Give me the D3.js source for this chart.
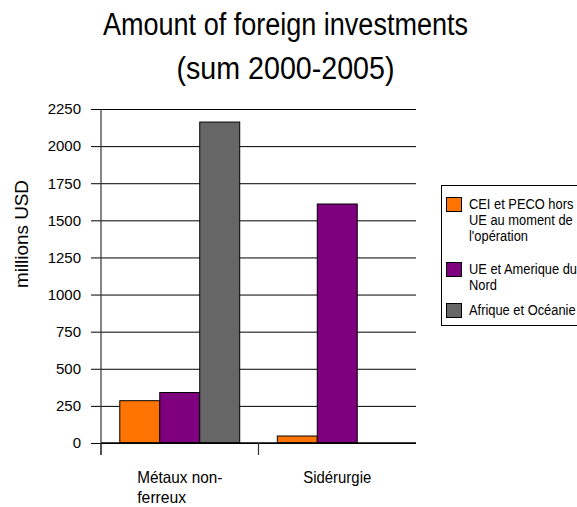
<!DOCTYPE html>
<html><head><meta charset="utf-8">
<script src="https://cdn.jsdelivr.net/npm/d3@7"></script>
<style>body{margin:0;background:#fff;} svg{display:block;font-family:"Liberation Sans",Arial,sans-serif;}</style>
</head><body>
<script>
const categories = ["Métaux non-ferreux", "Sidérurgie"];
const categoryLines = [["Métaux non-", "ferreux"], ["Sidérurgie"]];
const seriesNames = ["CEI et PECO hors UE au moment de l'opération", "UE et Amerique du Nord", "Afrique et Océanie"];
const legendLines = [["CEI et PECO hors", "UE au moment de", "l'opération"], ["UE et Amerique du", "Nord"], ["Afrique et Océanie"]];
const seriesCEI = [285, 47];
const seriesUE = [340, 1610];
const seriesAfrique = [2162, 0];
const seriesValues = [seriesCEI, seriesUE, seriesAfrique];
const colors = ["#ff7300", "#7f007f", "#666666"];
const yTicks = [0, 250, 500, 750, 1000, 1250, 1500, 1750, 2000, 2250];

(function () {
const W = 577, H = 507;
const svg = d3.select("body").append("svg").attr("width", W).attr("height", H);
const pl = 101, pr = 416, pt = 109, pb = 443;

const x = d3.scaleBand().domain(categories).range([pl, pr]);
const xs = d3.scaleBand().domain(d3.range(seriesNames.length)).range([0, x.bandwidth()]).paddingInner(0).paddingOuter(0.47);
const y = d3.scaleLinear().domain([0, 2250]).range([pb, pt]);

// title
svg.append("text").attr("x", 285.5).attr("y", 35).attr("text-anchor", "middle").attr("font-size", 31)
  .attr("textLength", 365).attr("lengthAdjust", "spacingAndGlyphs").attr("fill", "#000").text("Amount of foreign investments");
svg.append("text").attr("x", 285.5).attr("y", 79).attr("text-anchor", "middle").attr("font-size", 31)
  .attr("textLength", 218).attr("lengthAdjust", "spacingAndGlyphs").attr("fill", "#000").text("(sum 2000-2005)");

// gridlines
const yAxis = d3.axisLeft(y).tickValues(yTicks).tickSize(-(pr - pl)).tickPadding(20).tickFormat(d3.format("d"));
const gy = svg.append("g").attr("transform", `translate(${pl},0)`).call(yAxis);
gy.select(".domain").remove();
gy.selectAll(".tick line").attr("stroke", "#000").attr("x1", -10);
gy.selectAll(".tick text").attr("font-size", 15).attr("fill", "#000").attr("font-family", "Liberation Sans, Arial, sans-serif");

// bars
const groups = svg.append("g").selectAll("g").data(categories).join("g")
  .attr("transform", d => `translate(${x(d)},0)`);
groups.selectAll("rect").data((d, i) => seriesValues.map((s, j) => ({j, v: s[i]})))
  .join("rect")
  .attr("x", d => xs(d.j)).attr("width", xs.bandwidth())
  .attr("y", d => y(d.v)).attr("height", d => pb - y(d.v))
  .attr("fill", d => colors[d.j]).attr("stroke", "#000").attr("stroke-width", 1)
  .attr("display", d => d.v > 0 ? null : "none");

// y axis line
svg.append("line").attr("x1", pl).attr("x2", pl).attr("y1", pt).attr("y2", pb + 12).attr("stroke", "#333").attr("stroke-width", 1.2);
// x axis line
svg.append("line").attr("x1", pl).attr("x2", pr).attr("y1", pb).attr("y2", pb).attr("stroke", "#000").attr("stroke-width", 1.5);
// category ticks
svg.selectAll(".ctick").data(categories).join("line").attr("class", "ctick")
  .attr("x1", d => x(d)).attr("x2", d => x(d)).attr("y1", pb).attr("y2", pb + 12)
  .attr("stroke", "#333").attr("stroke-width", 1.2);

// category labels
const catWidths = [[85, 49], [68]];
categories.forEach((c, i) => {
  const lines = categoryLines[i];
  const bw = d3.max(catWidths[i]);
  const x0 = x(c) + x.bandwidth() / 2 - bw / 2;
  lines.forEach((l, k) => svg.append("text").attr("font-size", 16.5).attr("fill", "#000")
    .attr("x", x0).attr("y", 483 + k * 20)
    .attr("textLength", catWidths[i][k]).attr("lengthAdjust", "spacingAndGlyphs").text(l));
});

// y label
svg.append("text").attr("transform", "translate(28,234) rotate(-90)").attr("text-anchor", "middle")
  .attr("font-size", 19).attr("textLength", 108).attr("lengthAdjust", "spacingAndGlyphs")
  .attr("fill", "#000").text("millions USD");

// legend
const lg = svg.append("g");
lg.append("rect").attr("x", 441.5).attr("y", 185.5).attr("width", 150).attr("height", 140).attr("fill", "#fff").attr("stroke", "#000");
const legendY = [197, 262, 303];
seriesNames.forEach((s, i) => {
  lg.append("rect").attr("x", 446.5).attr("y", legendY[i] + 0.5).attr("width", 15).attr("height", 14).attr("fill", colors[i]).attr("stroke", "#000");
  const t = lg.append("text").attr("font-size", 14).attr("fill", "#000")
    .attr("transform", "translate(469,0) scale(0.92,1)");
  legendLines[i].forEach((l, k) => t.append("tspan").attr("x", 0).attr("y", legendY[i] + 12 + k * 16).text(l));
});
})();
</script>
</body></html>
